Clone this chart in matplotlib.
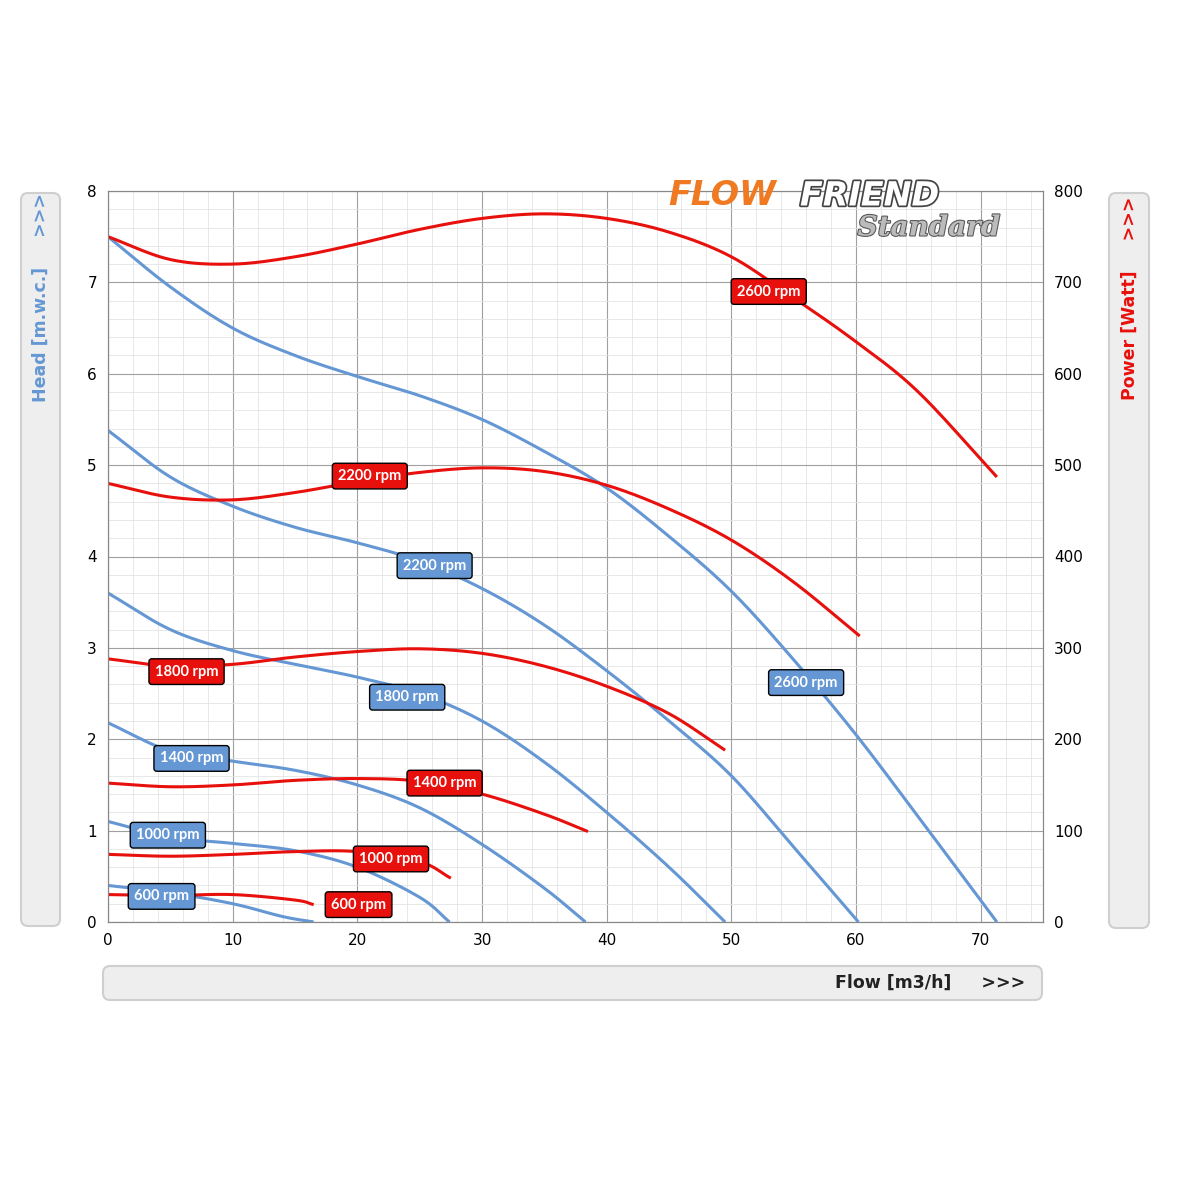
import matplotlib
matplotlib.use("Agg")
import matplotlib.pyplot as plt
import matplotlib.patheffects as pe
import numpy as np
from matplotlib.patches import FancyBboxPatch
from matplotlib.ticker import MultipleLocator

speeds = ["600 rpm", "1000 rpm", "1400 rpm", "1800 rpm", "2200 rpm", "2600 rpm"]

head_flow = {
    "2600 rpm": [0, 5, 10, 15, 20, 25, 30, 35, 40, 45, 50, 55, 60, 65, 71.3],
    "2200 rpm": [0, 5, 10, 15, 20, 25, 30, 35, 40, 45, 50, 55, 60.2],
    "1800 rpm": [0, 5, 10, 15, 20, 25, 30, 35, 40, 45, 49.5],
    "1400 rpm": [0, 5, 10, 15, 20, 25, 30, 35, 38.3],
    "1000 rpm": [0, 5, 10, 15, 20, 25, 27.4],
    "600 rpm": [0, 5, 10, 14, 16.5],
}
head_vals = {
    "2600 rpm": [7.5, 6.95, 6.5, 6.2, 5.97, 5.76, 5.5, 5.15, 4.75, 4.22, 3.62, 2.87, 2.05, 1.15, 0],
    "2200 rpm": [5.38, 4.87, 4.55, 4.32, 4.15, 3.95, 3.65, 3.25, 2.75, 2.2, 1.6, 0.82, 0],
    "1800 rpm": [3.6, 3.2, 2.97, 2.82, 2.68, 2.5, 2.2, 1.75, 1.2, 0.6, 0],
    "1400 rpm": [2.18, 1.87, 1.76, 1.66, 1.5, 1.25, 0.85, 0.37, 0],
    "1000 rpm": [1.1, 0.93, 0.86, 0.78, 0.6, 0.27, 0],
    "600 rpm": [0.4, 0.32, 0.2, 0.06, 0],
}
power_flow = {
    "2600 rpm": [0, 5, 10, 15, 20, 25, 30, 35, 40, 45, 50, 55, 60, 65, 71.3],
    "2200 rpm": [0, 5, 10, 15, 20, 25, 30, 35, 40, 45, 50, 55, 60.3],
    "1800 rpm": [0, 5, 10, 15, 20, 25, 30, 35, 40, 45, 49.5],
    "1400 rpm": [0, 5, 10, 15, 20, 25, 30, 35, 38.5],
    "1000 rpm": [0, 5, 10, 15, 20, 25, 27.5],
    "600 rpm": [0, 5, 10, 15, 16.5],
}
power_vals = {
    "2600 rpm": [750, 725, 720, 728, 742, 758, 770, 775, 770, 755, 728, 683, 635, 580, 487],
    "2200 rpm": [480, 465, 462, 470, 482, 492, 497, 493, 478, 452, 418, 372, 313],
    "1800 rpm": [288, 280, 282, 290, 296, 299, 294, 280, 258, 228, 188],
    "1400 rpm": [152, 148, 150, 155, 157, 154, 140, 118, 99],
    "1000 rpm": [74, 72, 74, 77, 77, 66, 48],
    "600 rpm": [30, 29, 30, 24, 19],
}
head_label_pos = {"2600 rpm": (56, 2.62), "2200 rpm": (26.2, 3.9), "1800 rpm": (24, 2.46),
                  "1400 rpm": (6.7, 1.79), "1000 rpm": (4.8, 0.95), "600 rpm": (4.3, 0.28)}
power_label_pos = {"2600 rpm": (53, 690), "2200 rpm": (21, 488), "1800 rpm": (6.3, 274),
                   "1400 rpm": (27, 152), "1000 rpm": (22.7, 69), "600 rpm": (20.1, 19)}

BLUE = "#6497d3"
RED = "#e8100c"


def smooth(x, y, n=20):
    x = np.asarray(x, float); y = np.asarray(y, float)
    P = np.column_stack([x, y])
    P = np.vstack([2 * P[0] - P[1], P, 2 * P[-1] - P[-2]])
    out = []
    t = np.linspace(0, 1, n, endpoint=False)[:, None]
    for i in range(1, len(P) - 2):
        p0, p1, p2, p3 = P[i - 1], P[i], P[i + 1], P[i + 2]
        seg = 0.5 * ((2 * p1) + (-p0 + p2) * t + (2 * p0 - 5 * p1 + 4 * p2 - p3) * t ** 2
                     + (-p0 + 3 * p1 - 3 * p2 + p3) * t ** 3)
        out.append(seg)
    out.append(P[-2][None, :])
    A = np.vstack(out)
    return A[:, 0], A[:, 1]


fig = plt.figure(figsize=(11.79, 11.79), dpi=100)
ax = fig.add_axes([108 / 1179, 1 - 922 / 1179, (1043 - 108) / 1179, (922 - 191) / 1179])
ax2 = ax.twinx()

ax.set_xlim(0, 75)
ax.set_ylim(0, 8)
ax2.set_ylim(0, 800)
ax.xaxis.set_major_locator(MultipleLocator(10))
ax.xaxis.set_minor_locator(MultipleLocator(2))
ax.yaxis.set_major_locator(MultipleLocator(1))
ax.yaxis.set_minor_locator(MultipleLocator(0.2))
ax2.yaxis.set_major_locator(MultipleLocator(100))
ax.grid(which="major", color="#a0a0a0", lw=0.8)
ax.grid(which="minor", color="#e4e4e4", lw=0.6)
ax.set_axisbelow(True)
for a in (ax, ax2):
    for s in a.spines.values():
        s.set_color("#888888"); s.set_linewidth(0.8)
    a.tick_params(which="both", length=0, labelsize=11, pad=8)

for s in speeds:
    xx, yy = smooth(head_flow[s], head_vals[s])
    ax.plot(xx, yy, color=BLUE, lw=2.2, solid_capstyle="butt")
    xx, yy = smooth(power_flow[s], power_vals[s])
    ax2.plot(xx, yy, color=RED, lw=2.2, solid_capstyle="butt")

LBL = dict(color="white", fontsize=10.5, fontweight="bold", family="Lato", ha="center", va="center", zorder=5)
for s in speeds:
    x, y = head_label_pos[s]
    ax2.text(x, y, s, transform=ax.transData,
             bbox=dict(boxstyle="round,pad=0.4,rounding_size=0.2", fc=BLUE, ec="black", lw=1), **LBL)
    x, y = power_label_pos[s]
    ax2.text(x, y, s, bbox=dict(boxstyle="round,pad=0.4,rounding_size=0.2", fc=RED, ec="black", lw=1), **LBL)


def panel(x0, y0, w, h):
    fig.patches.append(FancyBboxPatch((x0 / 1179, 1 - (y0 + h) / 1179), w / 1179, h / 1179,
                                      boxstyle="round,pad=0,rounding_size=0.006", transform=fig.transFigure,
                                      fc="#eeeeee", ec="#cfcfcf", lw=1.5))


panel(21, 193, 39, 733)
panel(1109, 193, 40, 735)
panel(103, 966, 939, 34)
fig.text(41 / 1179, 1 - 298 / 1179, "Head [m.w.c.]     >>>", rotation=90, color=BLUE, fontsize=12.5,
         fontweight="bold", ha="center", va="center")
fig.text(1130 / 1179, 1 - 298 / 1179, "Power [Watt]     >>>", rotation=90, color=RED, fontsize=12.5,
         fontweight="bold", ha="center", va="center")
fig.text(1025 / 1179, 1 - 983 / 1179, "Flow [m3/h]     >>>", color="#222222", fontsize=12.5,
         fontweight="bold", ha="right", va="center")

# logo
fig.text(668 / 1179, 1 - 196 / 1179, "FLOW", color="#f07a22", fontsize=24, fontweight="bold",
         style="italic", ha="left", va="center")
fig.text(800 / 1179, 1 - 196 / 1179, "FRIEND", color="white", fontsize=24, fontweight="bold",
         style="italic", ha="left", va="center",
         path_effects=[pe.withStroke(linewidth=2.5, foreground="#444444")])
fig.text(1000 / 1179, 1 - 228 / 1179, "Standard", color="#bbbbbb", fontsize=20, fontweight="bold",
         style="italic", family="DejaVu Serif", ha="right", va="center",
         path_effects=[pe.withStroke(linewidth=1.5, foreground="#555555")])

fig.savefig("out.png", dpi=100)
